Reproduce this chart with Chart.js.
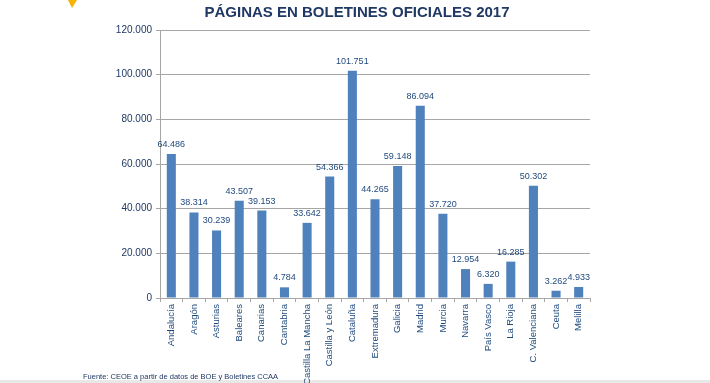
<!DOCTYPE html>
<html>
<head>
<meta charset="utf-8">
<script src="https://cdn.jsdelivr.net/npm/chart.js@4"></script>
<style>
  html, body { margin: 0; padding: 0; background: #fff; }
  #wrap { width: 710px; height: 383px; position: relative; }
</style>
</head>
<body>
<div id="wrap"><canvas id="chart" width="710" height="383"></canvas></div>
<script>
// --- Data ---
const regions = ['Andalucía', 'Aragón', 'Asturias', 'Baleares', 'Canarias', 'Cantabria',
  'Castilla La Mancha', 'Castilla y León', 'Cataluña', 'Extremadura', 'Galicia', 'Madrid',
  'Murcia', 'Navarra', 'País Vasco', 'La Rioja', 'C. Valenciana', 'Ceuta', 'Melilla'];
const pages = [64486, 38314, 30239, 43507, 39153, 4784, 33642, 54366, 101751, 44265,
  59148, 86094, 37720, 12954, 6320, 16285, 50302, 3262, 4933];
const yTicks = [0, 20000, 40000, 60000, 80000, 100000, 120000];

const chartTitle = 'PÁGINAS EN BOLETINES OFICIALES 2017';
const sourceNote = 'Fuente: CEOE a partir de datos de BOE y Boletines CCAA';

const navy = '#1F3864';
const labelBlue = '#1F497D';
const sans = "'Liberation Sans', Arial, sans-serif";

// thousands with a dot, like the Spanish original
function fmt(n) {
  return String(n).replace(/\B(?=(\d{3})+(?!\d))/g, '.');
}

// value labels above each bar
const barLabels = {
  id: 'barLabels',
  afterDatasetsDraw(chart) {
    const ctx = chart.ctx;
    const meta = chart.getDatasetMeta(0);
    ctx.save();
    ctx.font = "9px " + sans;
    ctx.fillStyle = labelBlue;
    ctx.textAlign = 'center';
    ctx.textBaseline = 'bottom';
    meta.data.forEach((bar, i) => {
      ctx.fillText(fmt(pages[i]), bar.x, bar.y - 5);
    });
    ctx.restore();
  }
};

// title, footnote and the bits of slide decoration
const decor = {
  id: 'decor',
  beforeDraw(chart) {
    const ctx = chart.ctx;
    ctx.save();
    ctx.fillStyle = '#fff';
    ctx.fillRect(0, 0, chart.width, chart.height);
    // grey strip at the bottom of the slide
    ctx.fillStyle = '#E8E8E8';
    ctx.fillRect(0, 380, chart.width, 3);
    // small yellow corner shape
    ctx.fillStyle = '#F4B400';
    ctx.beginPath();
    ctx.moveTo(68, 0);
    ctx.lineTo(77, 0);
    ctx.lineTo(72, 8);
    ctx.closePath();
    ctx.fill();
    ctx.restore();
  },
  afterDraw(chart) {
    const ctx = chart.ctx;
    ctx.save();
    ctx.fillStyle = navy;
    ctx.font = "bold 15px " + sans;
    ctx.textAlign = 'center';
    ctx.textBaseline = 'middle';
    ctx.fillText(chartTitle, 357, 13);
    ctx.font = "7.5px " + sans;
    ctx.textAlign = 'left';
    ctx.fillText(sourceNote, 83, 377);
    ctx.restore();
  }
};

new Chart(document.getElementById('chart'), {
  type: 'bar',
  data: {
    labels: regions,
    datasets: [{
      data: pages,
      backgroundColor: '#4F81BD',
      borderWidth: 0,
      categoryPercentage: 1,
      barPercentage: 0.4
    }]
  },
  options: {
    responsive: false,
    animation: false,
    events: [],
    layout: { padding: { left: 100, right: 120, top: 30, bottom: 0 } },
    plugins: { legend: { display: false }, title: { display: false }, tooltip: { enabled: false } },
    scales: {
      x: {
        offset: true,
        afterFit(scale) { scale.height = 85; },
        grid: { drawOnChartArea: false, drawTicks: true, tickLength: 4, color: '#A6A6A6', offset: true },
        border: { color: '#A6A6A6' },
        ticks: {
          minRotation: 90, maxRotation: 90, autoSkip: false, padding: 2,
          color: labelBlue, font: { family: sans, size: 9.5 }
        }
      },
      y: {
        min: 0, max: 120000,
        afterFit(scale) { scale.width = 60; },
        afterBuildTicks(scale) { scale.ticks = yTicks.map(v => ({ value: v })); },
        grid: { color: '#A6A6A6', tickLength: 4 },
        border: { color: '#A6A6A6' },
        ticks: {
          padding: 4, color: navy, font: { family: sans, size: 10 },
          callback: v => fmt(v)
        }
      }
    }
  },
  plugins: [barLabels, decor]
});
</script>
</body>
</html>
